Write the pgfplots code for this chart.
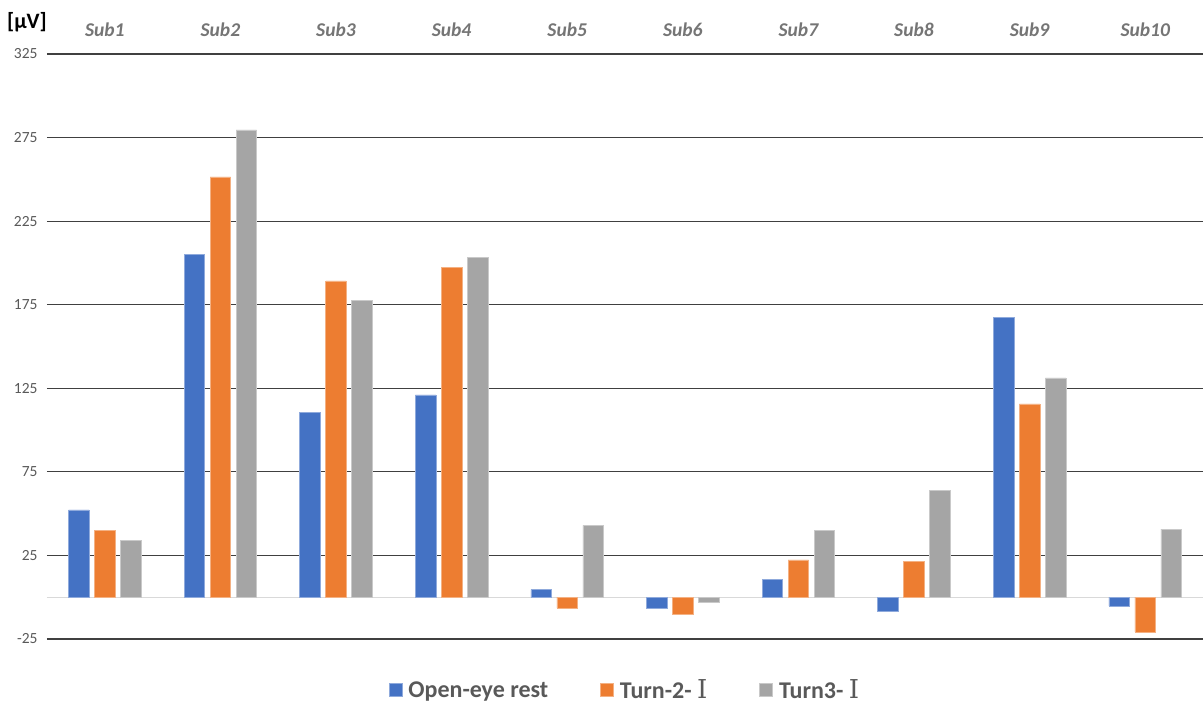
\documentclass[border=0pt]{standalone}
\usepackage{fontspec}
\setmainfont{Carlito}
\newfontfamily\numeralfont{DejaVu Serif}
\usepackage{pgfplots}
\pgfplotsset{compat=1.18}

\definecolor{cblue}{HTML}{4472C4}
\definecolor{corange}{HTML}{ED7D31}
\definecolor{cgrey}{HTML}{A5A5A5}
\definecolor{gridc}{HTML}{404040}
\definecolor{zeroc}{HTML}{D9D9D9}
\definecolor{labc}{HTML}{595959}
\definecolor{catc}{HTML}{757575}

\pgfplotsset{
  sq legend/.style={legend image code/.code={%
      \fill[##1] (0pt,-6.5pt) rectangle (13pt,6.5pt);}},
}

\begin{document}
\begin{tikzpicture}
\begin{axis}[
  name=ax,
  scale only axis,
  width=1156pt, height=585pt,
  xmin=-0.5, xmax=9.5,
  ymin=-25, ymax=325,
  xtick={0,...,9},
  xticklabels={Sub1,Sub2,Sub3,Sub4,Sub5,Sub6,Sub7,Sub8,Sub9,Sub10},
  xticklabel pos=upper,
  xticklabel style={font=\fontsize{19.5}{21}\selectfont\bfseries\itshape, text=catc, yshift=14pt},
  ytick={-25,25,...,325},
  yticklabel style={font=\fontsize{15.5}{17}\selectfont, text=labc, xshift=-6pt},
  /pgf/number format/assume math mode=true,
  major tick length=0pt,
  axis line style={draw=none},
  ymajorgrids,
  grid style={draw=gridc, line width=1.1pt},
  extra y ticks={0},
  extra y tick labels={},
  extra y tick style={grid style={draw=zeroc, line width=1.2pt}},
  legend columns=3,
  legend style={draw=none, fill=none,
    at={(axis description cs:0.5,0)}, anchor=center, yshift=-51pt,
    font=\fontsize{24}{26}\selectfont\bfseries, text=labc,
    /tikz/every even column/.append style={column sep=50pt},
    /tikz/every odd column/.append style={column sep=4pt}},
]
\addplot[ybar, bar width=0.177, bar shift=-0.225, fill=cblue, draw=cblue!60!white, line width=0.6pt, sq legend]
  coordinates {(0,52.2) (1,205.3) (2,110.8) (3,121) (4,4.5) (5,-6.6) (6,10.7) (7,-8.3) (8,167.6) (9,-5.2)};
\addlegendentry{Open-eye rest}
\addplot[ybar, bar width=0.177, bar shift=0, fill=corange, draw=corange!60!white, line width=0.6pt, sq legend]
  coordinates {(0,40.2) (1,251.5) (2,189.3) (3,197.5) (4,-6.6) (5,-10.2) (6,22.3) (7,21.5) (8,115.6) (9,-20.8)};
\addlegendentry{Turn-2- {\mdseries\numeralfont\fontsize{26}{28}\selectfont Ⅰ}}
\addplot[ybar, bar width=0.177, bar shift=0.225, fill=cgrey, draw=cgrey!60!white, line width=0.6pt, sq legend]
  coordinates {(0,34.2) (1,279.6) (2,177.8) (3,203.2) (4,43) (5,-3.1) (6,40) (7,64) (8,131.2) (9,40.8)};
\addlegendentry{Turn3- {\mdseries\numeralfont\fontsize{26}{28}\selectfont Ⅰ}}
\end{axis}
\node[font=\fontsize{22}{24}\selectfont\bfseries] at ([xshift=-20pt,yshift=32pt]ax.north west) {[μV]};
\pgfresetboundingbox
\path ([xshift=-47pt,yshift=-65pt]ax.south west) rectangle ([xshift=1pt,yshift=54pt]ax.north east);
\end{tikzpicture}
\end{document}
